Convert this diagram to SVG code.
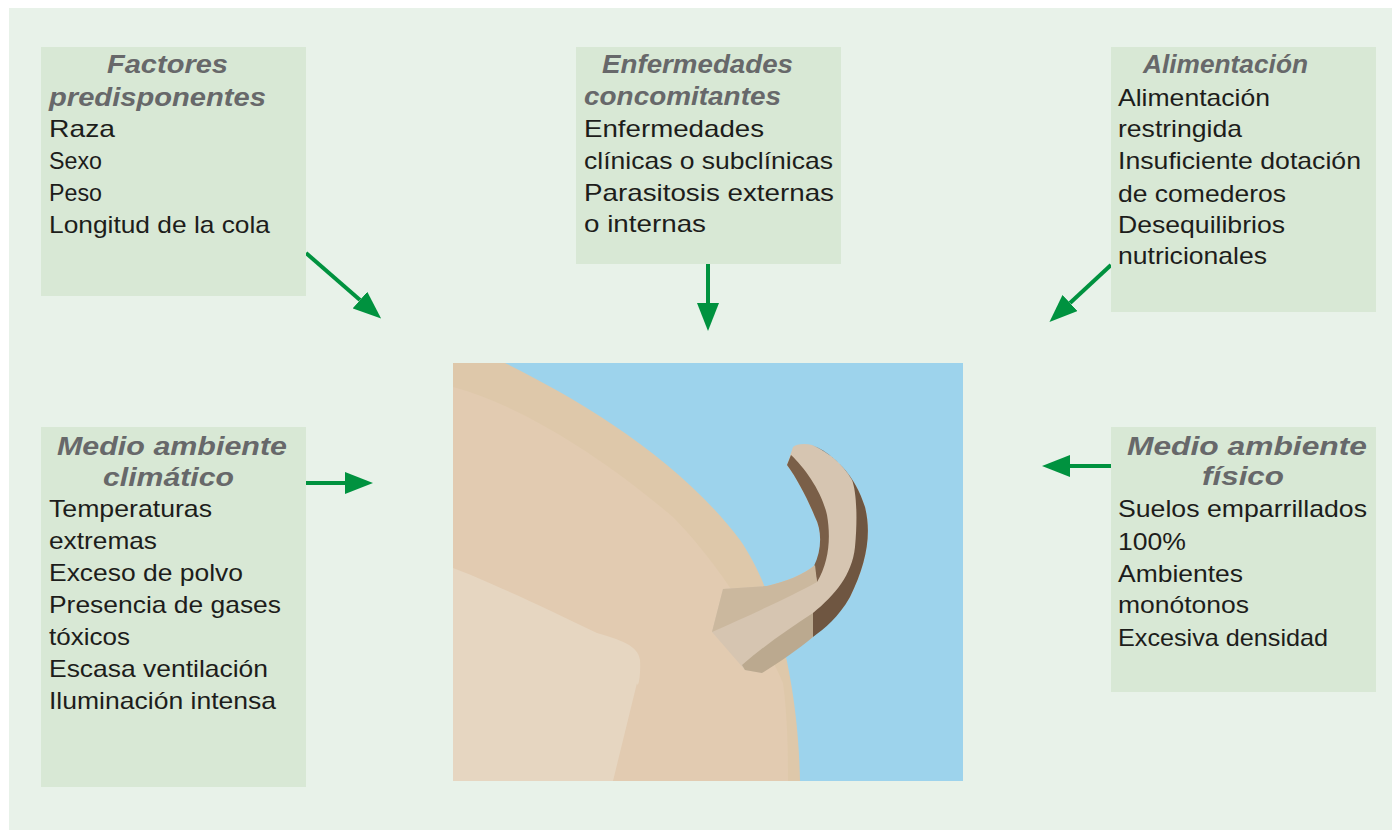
<svg xmlns="http://www.w3.org/2000/svg" width="1392" height="832" viewBox="0 0 1392 832">
<defs>
<style>
.box{fill:#d8e8d5}
.ttl{font-family:"Liberation Sans",Arial,sans-serif;font-weight:bold;font-style:italic;font-size:25px;fill:#67686a}
.txt{font-family:"Liberation Sans",Arial,sans-serif;font-size:24px;fill:#1d1d1b}
.arr{stroke:#00923f;stroke-width:4;fill:none;marker-end:url(#ah)}
</style>
<marker id="ah" markerUnits="userSpaceOnUse" viewBox="0 0 28 22" refX="0" refY="11" markerWidth="28" markerHeight="22" orient="auto">
<path d="M0,0 L28,11 L0,22 Z" fill="#00923f"/>
</marker>
</defs>
<rect x="0" y="0" width="1392" height="832" fill="#ffffff"/>
<rect x="9" y="8" width="1383" height="822" fill="#e8f2e9"/>

<g id="picture">
<rect x="453" y="363" width="510" height="418" fill="#9dd3ec"/>
<path d="M453,363 L505,363 C580,400 680,460 740,540 C775,590 798,680 800,781 L453,781 Z" fill="#dec8aa"/>
<path d="M453,387 C520,405 600,455 673,517 C720,565 760,630 783,683 C788,720 788,760 788,781 L453,781 Z" fill="#e2cbb1"/>
<path d="M453,568 C480,578 540,605 597,633 C620,640 638,645 640,660 C641,675 638,690 637,683 L613,781 L453,781 Z" fill="#e6d6c1"/>
<path d="M723,589 L767,586 C785,582 805,574 815,565 C822,550 822,530 815,517 C808,500 798,480 787,465 L793,447 C796,444 805,443 812,445 C835,455 855,475 865,507 C872,535 866,565 850,597 C838,618 815,637 787,655 L762,673 L745,670 L712,632 Z" fill="#d6c5b1"/>
<path d="M812,445 C835,455 855,475 865,507 C872,535 866,565 850,597 C838,618 825,628 813,637 L813,613 C835,595 852,575 855,547 C858,515 856,490 852,480 C842,463 827,451 812,445 Z" fill="#6f5641"/>
<path d="M787,465 L791,455 C805,468 822,492 827,515 C831,538 829,562 817,582 L814,566 C822,550 822,530 815,517 C808,500 798,480 787,465 Z" fill="#7a5f48"/>
<path d="M723,589 L767,586 C785,582 805,574 815,565 L817,582 C790,597 750,615 712,632 Z" fill="#cbb89e"/>
<path d="M742,665 C765,645 790,628 813,613 L813,637 C800,648 780,662 762,673 L745,670 Z" fill="#bba98f"/>
</g>

<g id="connectors">
<line class="arr" x1="306" y1="253" x2="360" y2="300"/>
<line class="arr" x1="708" y1="264" x2="708" y2="303"/>
<line class="arr" x1="1111" y1="265" x2="1070" y2="303"/>
<line class="arr" x1="306" y1="483" x2="345" y2="483"/>
<line class="arr" x1="1111" y1="466" x2="1070" y2="466"/>
</g>

<g id="factores">
<rect class="box" x="41" y="47" width="265" height="249"/>
<text class="ttl" x="107" y="73" textLength="121" lengthAdjust="spacingAndGlyphs">Factores</text>
<text class="ttl" x="49" y="106" textLength="217" lengthAdjust="spacingAndGlyphs">predisponentes</text>
<text class="txt" x="49" y="137" textLength="66" lengthAdjust="spacingAndGlyphs">Raza</text>
<text class="txt" x="49" y="169" textLength="53" lengthAdjust="spacingAndGlyphs">Sexo</text>
<text class="txt" x="49" y="201" textLength="53" lengthAdjust="spacingAndGlyphs">Peso</text>
<text class="txt" x="49" y="233" textLength="221" lengthAdjust="spacingAndGlyphs">Longitud de la cola</text>
</g>

<g id="enfermedades">
<rect class="box" x="576" y="47" width="265" height="217"/>
<text class="ttl" x="602" y="73" textLength="191" lengthAdjust="spacingAndGlyphs">Enfermedades</text>
<text class="ttl" x="584" y="105" textLength="197" lengthAdjust="spacingAndGlyphs">concomitantes</text>
<text class="txt" x="584" y="137" textLength="180" lengthAdjust="spacingAndGlyphs">Enfermedades</text>
<text class="txt" x="584" y="169" textLength="249" lengthAdjust="spacingAndGlyphs">clínicas o subclínicas</text>
<text class="txt" x="584" y="201" textLength="250" lengthAdjust="spacingAndGlyphs">Parasitosis externas</text>
<text class="txt" x="584" y="232" textLength="122" lengthAdjust="spacingAndGlyphs">o internas</text>
</g>

<g id="alimentacion">
<rect class="box" x="1111" y="47" width="265" height="265"/>
<text class="ttl" x="1143" y="73" textLength="165" lengthAdjust="spacingAndGlyphs">Alimentación</text>
<text class="txt" x="1118" y="106" textLength="152" lengthAdjust="spacingAndGlyphs">Alimentación</text>
<text class="txt" x="1118" y="137" textLength="124" lengthAdjust="spacingAndGlyphs">restringida</text>
<text class="txt" x="1118" y="169" textLength="243" lengthAdjust="spacingAndGlyphs">Insuficiente dotación</text>
<text class="txt" x="1118" y="202" textLength="168" lengthAdjust="spacingAndGlyphs">de comederos</text>
<text class="txt" x="1118" y="233" textLength="167" lengthAdjust="spacingAndGlyphs">Desequilibrios</text>
<text class="txt" x="1118" y="264" textLength="149" lengthAdjust="spacingAndGlyphs">nutricionales</text>
</g>

<g id="climatico">
<rect class="box" x="41" y="427" width="265" height="360"/>
<text class="ttl" x="57" y="455" textLength="230" lengthAdjust="spacingAndGlyphs">Medio ambiente</text>
<text class="ttl" x="103" y="486" textLength="131" lengthAdjust="spacingAndGlyphs">climático</text>
<text class="txt" x="49" y="517" textLength="163" lengthAdjust="spacingAndGlyphs">Temperaturas</text>
<text class="txt" x="49" y="549" textLength="108" lengthAdjust="spacingAndGlyphs">extremas</text>
<text class="txt" x="49" y="581" textLength="194" lengthAdjust="spacingAndGlyphs">Exceso de polvo</text>
<text class="txt" x="49" y="613" textLength="232" lengthAdjust="spacingAndGlyphs">Presencia de gases</text>
<text class="txt" x="49" y="645" textLength="81" lengthAdjust="spacingAndGlyphs">tóxicos</text>
<text class="txt" x="49" y="677" textLength="219" lengthAdjust="spacingAndGlyphs">Escasa ventilación</text>
<text class="txt" x="49" y="709" textLength="227" lengthAdjust="spacingAndGlyphs">Iluminación intensa</text>
</g>

<g id="fisico">
<rect class="box" x="1111" y="427" width="265" height="265"/>
<text class="ttl" x="1127" y="455" textLength="240" lengthAdjust="spacingAndGlyphs">Medio ambiente</text>
<text class="ttl" x="1202" y="485" textLength="82" lengthAdjust="spacingAndGlyphs">físico</text>
<text class="txt" x="1118" y="517" textLength="249" lengthAdjust="spacingAndGlyphs">Suelos emparrillados</text>
<text class="txt" x="1118" y="550" textLength="68" lengthAdjust="spacingAndGlyphs">100%</text>
<text class="txt" x="1118" y="582" textLength="125" lengthAdjust="spacingAndGlyphs">Ambientes</text>
<text class="txt" x="1118" y="613" textLength="131" lengthAdjust="spacingAndGlyphs">monótonos</text>
<text class="txt" x="1118" y="646" textLength="210" lengthAdjust="spacingAndGlyphs">Excesiva densidad</text>
</g>
</svg>
